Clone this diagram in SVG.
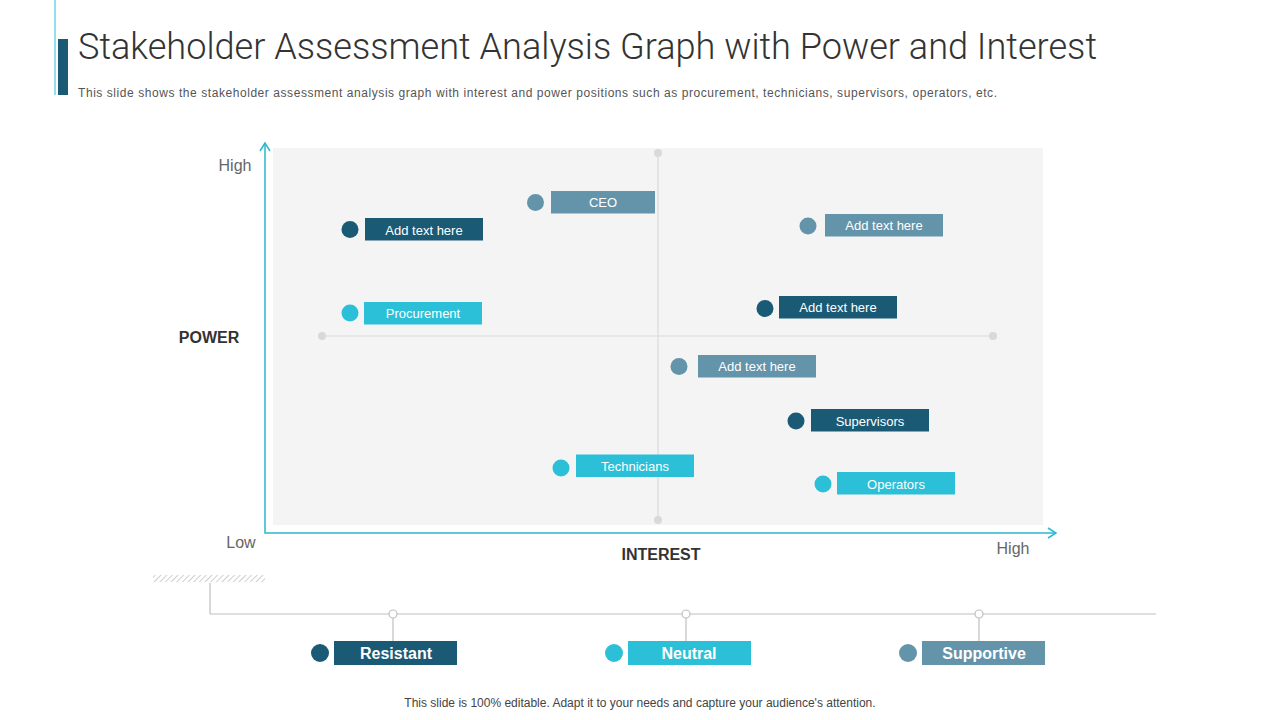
<svg xmlns="http://www.w3.org/2000/svg" width="1280" height="720" viewBox="0 0 1280 720">
<defs>
<style>
.t{font-family:"Liberation Sans",Arial,sans-serif}
.lbl{font-family:"Liberation Sans",Arial,sans-serif;font-size:13px;fill:#fff;text-anchor:middle}
.leg{font-family:"Liberation Sans",Arial,sans-serif;font-size:16px;font-weight:bold;fill:#fff;text-anchor:middle}
.dark{fill:#1b5a75}
.slate{fill:#6494aa}
.cyan{fill:#2bbfd8}
.axis{stroke:#2bb8d0;stroke-width:1.5;fill:none}
.grid{stroke:#d9d9d9;stroke-width:1.2}
.gdot{fill:#d9d9d9}
.lg{stroke:#bfbfbf;stroke-width:1.2;fill:none}
</style>
<pattern id="hatch" patternUnits="userSpaceOnUse" width="4" height="4" patternTransform="rotate(45)">
<rect width="4" height="4" fill="#fff"/>
<line x1="0" y1="0" x2="0" y2="4" stroke="#cfcfcf" stroke-width="2"/>
</pattern>
</defs>
<rect width="1280" height="720" fill="#fff"/>

<g id="header">
<line x1="55" y1="0" x2="55" y2="95" stroke="#2bbfd8" stroke-width="1"/>
<rect x="58" y="39" width="10" height="56" fill="#1b5a75"/>
<text x="78" y="59" font-family="Roboto,'Liberation Sans',sans-serif" font-weight="300" font-size="36" fill="#333" textLength="1019" lengthAdjust="spacingAndGlyphs">Stakeholder Assessment Analysis Graph with Power and Interest</text>
<text x="78" y="97" class="t" font-size="12" fill="#555" textLength="919" lengthAdjust="spacing">This slide shows the stakeholder assessment analysis graph with interest and power positions such as procurement, technicians, supervisors, operators, etc.</text>
</g>

<g id="chart">
<rect x="273" y="148" width="770" height="377" fill="#f4f4f4"/>
<line class="grid" x1="658" y1="153" x2="658" y2="520"/>
<line class="grid" x1="322" y1="336" x2="993" y2="336"/>
<circle class="gdot" cx="658" cy="153" r="4"/>
<circle class="gdot" cx="658" cy="520" r="4"/>
<circle class="gdot" cx="322" cy="336" r="4"/>
<circle class="gdot" cx="993" cy="336" r="4"/>
</g>

<g id="connectors">
<path class="axis" d="M265,144 V533 H1055"/>
<path class="axis" d="M260,151 L265,143 L270,151"/>
<path class="axis" d="M1048,528 L1056,533 L1048,538"/>
<line class="lg" x1="210" y1="583" x2="210" y2="614"/>
<line class="lg" x1="210" y1="614" x2="1156" y2="614"/>
<line class="lg" x1="393" y1="618" x2="393" y2="641"/>
<line class="lg" x1="686" y1="618" x2="686" y2="641"/>
<line class="lg" x1="979" y1="618" x2="979" y2="641"/>
<circle cx="393" cy="614" r="4" fill="#fff" stroke="#bfbfbf" stroke-width="1.2"/>
<circle cx="686" cy="614" r="4" fill="#fff" stroke="#bfbfbf" stroke-width="1.2"/>
<circle cx="979" cy="614" r="4" fill="#fff" stroke="#bfbfbf" stroke-width="1.2"/>
</g>

<g id="axis-labels" class="t">
<text x="235" y="171" font-size="16" fill="#666" text-anchor="middle">High</text>
<text x="209" y="343" font-size="16" font-weight="bold" fill="#333" text-anchor="middle">POWER</text>
<text x="241" y="548" font-size="16" fill="#666" text-anchor="middle">Low</text>
<text x="661" y="560" font-size="16" font-weight="bold" fill="#333" text-anchor="middle">INTEREST</text>
<text x="1013" y="554" font-size="16" fill="#666" text-anchor="middle">High</text>
</g>

<g id="node-ceo">
<circle class="slate" cx="535.5" cy="202.5" r="8.5"/>
<rect class="slate" x="551" y="191" width="104" height="22.5"/>
<text class="lbl" x="603" y="207">CEO</text>
</g>
<g id="node-add1">
<circle class="dark" cx="350" cy="229.5" r="8.5"/>
<rect class="dark" x="365" y="218" width="118" height="22.5"/>
<text class="lbl" x="424" y="234.5">Add text here</text>
</g>
<g id="node-procurement">
<circle class="cyan" cx="350" cy="313" r="8.5"/>
<rect class="cyan" x="364" y="302" width="118" height="22.5"/>
<text class="lbl" x="423" y="318">Procurement</text>
</g>
<g id="node-add2">
<circle class="slate" cx="808" cy="226" r="8.5"/>
<rect class="slate" x="825" y="214" width="118" height="22.5"/>
<text class="lbl" x="884" y="230">Add text here</text>
</g>
<g id="node-add3">
<circle class="dark" cx="765" cy="308.5" r="8.5"/>
<rect class="dark" x="779" y="296" width="118" height="22.5"/>
<text class="lbl" x="838" y="312">Add text here</text>
</g>
<g id="node-add4">
<circle class="slate" cx="679" cy="366.5" r="8.5"/>
<rect class="slate" x="698" y="355" width="118" height="22.5"/>
<text class="lbl" x="757" y="371">Add text here</text>
</g>
<g id="node-supervisors">
<circle class="dark" cx="796" cy="421" r="8.5"/>
<rect class="dark" x="811" y="409" width="118" height="22.5"/>
<text class="lbl" x="870" y="425.5">Supervisors</text>
</g>
<g id="node-technicians">
<circle class="cyan" cx="561" cy="468" r="8.5"/>
<rect class="cyan" x="576" y="454.5" width="118" height="22.5"/>
<text class="lbl" x="635" y="470.5">Technicians</text>
</g>
<g id="node-operators">
<circle class="cyan" cx="823" cy="484" r="8.5"/>
<rect class="cyan" x="837" y="472" width="118" height="22.5"/>
<text class="lbl" x="896" y="488.5">Operators</text>
</g>

<g id="legend-bar">
<rect x="153" y="575" width="112" height="7" fill="url(#hatch)"/>
</g>
<g id="legend-resistant">
<circle class="dark" cx="320" cy="653" r="9"/>
<rect class="dark" x="334" y="641" width="123" height="24"/>
<text class="leg" x="396" y="659">Resistant</text>
</g>
<g id="legend-neutral">
<circle class="cyan" cx="614" cy="653" r="9"/>
<rect class="cyan" x="628" y="641" width="123" height="24"/>
<text class="leg" x="689" y="659">Neutral</text>
</g>
<g id="legend-supportive">
<circle class="slate" cx="908" cy="653" r="9"/>
<rect class="slate" x="922" y="641" width="123" height="24"/>
<text class="leg" x="984" y="659">Supportive</text>
</g>

<g id="footer">
<text x="640" y="707" class="t" font-size="12" fill="#444" text-anchor="middle">This slide is 100% editable. Adapt it to your needs and capture your audience's attention.</text>
</g>
</svg>
